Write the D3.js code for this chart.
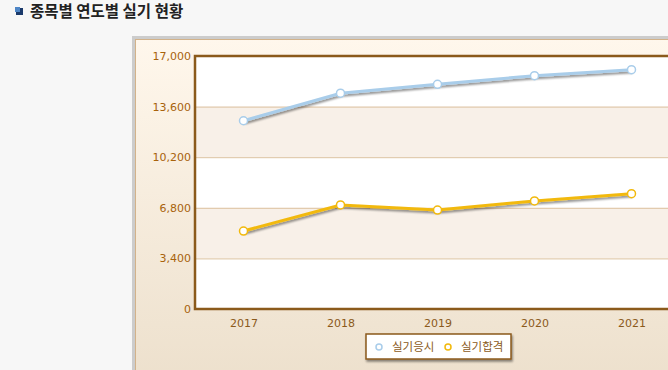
<!DOCTYPE html>
<html>
<head>
<meta charset="utf-8">
<style>
  body { margin: 0; background: #f7f7f7; font-family: Verdana, "DejaVu Sans", sans-serif; }
  svg { display: block; }
</style>
</head>
<body>
<svg width="668" height="370"></svg>
<script src="https://d3js.org/d3.v7.min.js"></script>
<script>
var years = ["2017", "2018", "2019", "2020", "2021"];
var applicants = [12650, 14500, 15100, 15680, 16080];   // 실기응시
var passed = [5240, 6990, 6650, 7260, 7750];            // 실기합격
var yTicks = [0, 3400, 6800, 10200, 13600, 17000];
var seriesNames = ["실기응시", "실기합격"];
var seriesColors = ["#a9cdea", "#f2b90c"];

var svg = d3.select("svg");
var defs = svg.append("defs");

var grad = defs.append("linearGradient")
    .attr("id", "panelGrad")
    .attr("x1", 0).attr("y1", 0).attr("x2", 0).attr("y2", 1);
grad.append("stop").attr("offset", "0%").attr("stop-color", "#fff7ec");
grad.append("stop").attr("offset", "100%").attr("stop-color", "#ecdfcb");

var shadow = defs.append("filter").attr("id", "shadow")
    .attr("x", "-10%").attr("y", "-50%").attr("width", "120%").attr("height", "200%");
shadow.append("feGaussianBlur").attr("in", "SourceAlpha").attr("stdDeviation", 1);
shadow.append("feOffset").attr("dx", 1).attr("dy", 2).attr("result", "o");
shadow.append("feComponentTransfer").append("feFuncA").attr("type", "linear").attr("slope", 0.45);
var merge = shadow.append("feMerge");
merge.append("feMergeNode");
merge.append("feMergeNode").attr("in", "SourceGraphic");

// title
svg.append("rect").attr("x", 16).attr("y", 8).attr("width", 7).attr("height", 7).attr("fill", "#1b3a6b");
svg.append("rect").attr("x", 15).attr("y", 7).attr("width", 5).attr("height", 5).attr("fill", "#4f86c6");
svg.append("text")
    .attr("x", 30).attr("y", 17)
    .attr("font-family", "'Noto Sans CJK KR', sans-serif")
    .attr("font-size", 15.5).attr("font-weight", "bold")
    .attr("fill", "#222")
    .text("종목별 연도별 실기 현황");

// outer frame
svg.append("rect").attr("x", 132).attr("y", 36).attr("width", 560).attr("height", 360).attr("fill", "#cccccc");
svg.append("rect").attr("x", 135.5).attr("y", 39.5).attr("width", 560).attr("height", 360)
    .attr("fill", "url(#panelGrad)").attr("stroke", "#d2b28a");

var pLeft = 195, pTop = 56, pRight = 680, pBottom = 309;

var x = d3.scalePoint().domain(years).range([pLeft, pRight]).padding(0.5);
var y = d3.scaleLinear().domain([0, 17000]).range([pBottom, pTop]);

// plot bands
var plot = svg.append("g");
plot.append("rect").attr("x", pLeft).attr("y", pTop).attr("width", pRight - pLeft).attr("height", pBottom - pTop).attr("fill", "#ffffff");
plot.selectAll(".band")
  .data(d3.pairs(yTicks).filter(function(d, i) { return i % 2 === 1; }))
  .enter().append("rect")
    .attr("x", pLeft).attr("width", pRight - pLeft)
    .attr("y", function(d) { return y(d[1]); })
    .attr("height", function(d) { return y(d[0]) - y(d[1]); })
    .attr("fill", "#f8f0e8");

// gridlines
var yAxis = d3.axisLeft(y).tickValues(yTicks).tickSize(-(pRight - pLeft)).tickPadding(4)
    .tickFormat(d3.format(","));
var gy = svg.append("g").attr("transform", "translate(" + pLeft + ",0)").call(yAxis);
gy.select(".domain").remove();
gy.selectAll("line").attr("stroke", "#dcc29f");
gy.selectAll("text").attr("fill", "#a8630c").attr("font-size", 11)
    .attr("font-family", "Verdana, 'DejaVu Sans', sans-serif");

var xAxis = d3.axisBottom(x).tickSize(0).tickPadding(10);
var gx = svg.append("g").attr("transform", "translate(0," + pBottom + ")").call(xAxis);
gx.select(".domain").remove();
gx.selectAll("text").attr("fill", "#8b5a1b").attr("font-size", 11)
    .attr("font-family", "Verdana, 'DejaVu Sans', sans-serif");

// frame
svg.append("path")
    .attr("d", "M" + (pRight + 5) + "," + pTop + "H" + pLeft + "V" + pBottom + "H" + (pRight + 5))
    .attr("fill", "none").attr("stroke", "#8b5a1b").attr("stroke-width", 2.5);

// series
var line = d3.line().x(function(d, i) { return x(years[i]); }).y(function(d) { return y(d); });
[applicants, passed].forEach(function(vals, k) {
  var g = svg.append("g");
  g.append("path").datum(vals)
      .attr("d", line)
      .attr("fill", "none")
      .attr("stroke", seriesColors[k])
      .attr("stroke-width", 3)
      .attr("filter", "url(#shadow)");
  g.selectAll("circle").data(vals).enter().append("circle")
      .attr("cx", function(d, i) { return x(years[i]); })
      .attr("cy", function(d) { return y(d); })
      .attr("r", 4)
      .attr("fill", "#ffffff")
      .attr("stroke", seriesColors[k])
      .attr("stroke-width", 1.5);
});

// legend
var lg = svg.append("g").attr("transform", "translate(366,334)");
lg.append("rect").attr("width", 145).attr("height", 25)
    .attr("fill", "#ffffff").attr("stroke", "#8b5a1b").attr("stroke-width", 1.5)
    .attr("filter", "url(#shadow)");
var items = lg.selectAll(".item").data(seriesNames).enter().append("g")
    .attr("transform", function(d, i) { return "translate(" + (13 + i * 69) + ",13)"; });
items.append("circle").attr("r", 3).attr("fill", "#ffffff")
    .attr("stroke", function(d, i) { return seriesColors[i]; }).attr("stroke-width", 1.5);
items.append("text").attr("x", 13).attr("y", 4)
    .attr("font-family", "'Noto Sans CJK KR', sans-serif").attr("font-size", 11.5)
    .attr("fill", "#8b5a1b")
    .text(function(d) { return d; });
</script>
</body>
</html>
